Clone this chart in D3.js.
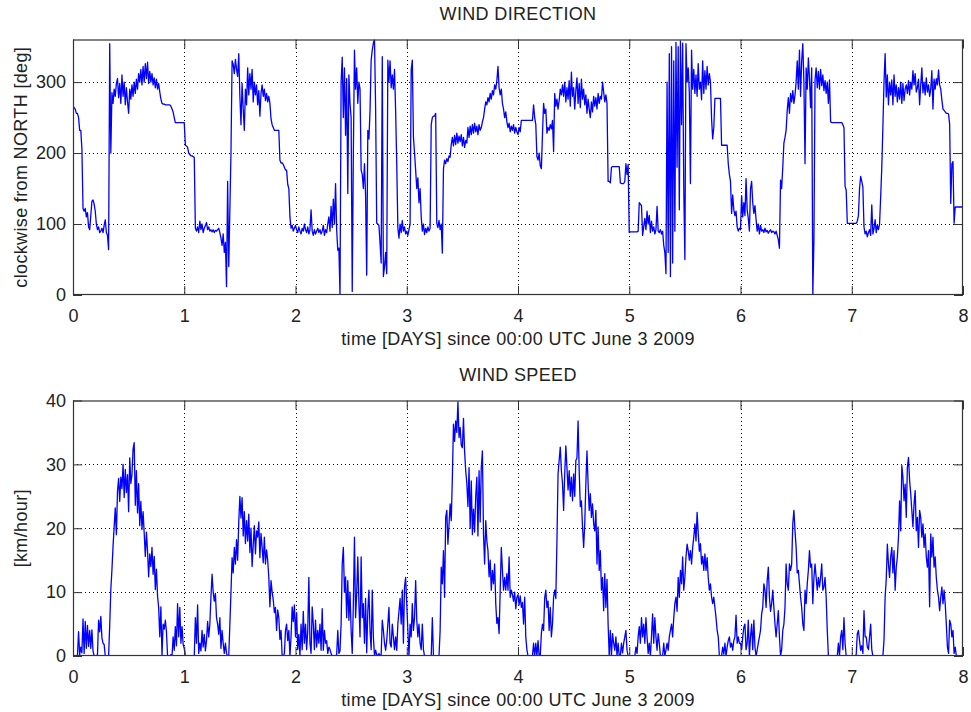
<!DOCTYPE html>
<html><head><meta charset="utf-8">
<script src="https://cdn.jsdelivr.net/npm/d3@7"></script>
<style>
body{margin:0;background:#fff;}
svg text{font-family:"Liberation Sans",Arial,sans-serif;fill:#222;}
</style></head><body><svg id="c" width="971" height="712"></svg>
<script>
// ---- data: wind direction (deg), 0.01-day samples, one array per day ----
const dirDay0=[266,264,262,256,256,250,232,232,206,122, 118,122,110,116,96,92,112,132,134,128, 118,100,92,96,88,90,94,88,98,106, 88,84,64,354,200,285,270,290,280,298, 305,278,298,270,310,280,300,268,292,272, 256,290,276,296,280,300,284,304,290,312, 300,318,296,322,300,326,305,328,298,315, 300,312,296,306,292,304,290,298,286,276, 270,269,269,268,268,268,268,268,266,262, 258,250,243,243,243,243,243,243,243,243];
const dirDay1=[243,211,210,208,200,198,196,196,195,194, 94,90,96,88,104,92,100,88,94,98, 102,92,96,90,92,89,92,88,91,90, 92,94,88,80,70,86,60,74,12,160, 40,120,200,330,325,312,332,318,308,340, 280,240,298,262,232,290,268,320,282,312, 290,318,272,300,282,296,268,288,252,284, 296,280,290,274,284,272,280,270,248,240, 236,232,232,232,232,232,190,186,186,184, 180,176,176,156,150,110,94,98,90,94];
const dirDay2=[98,92,88,96,90,86,94,90,100,92, 88,96,86,92,120,90,84,92,86,90, 94,88,92,86,90,98,84,92,88,100, 110,90,125,95,135,100,157,92,63,66, 0,300,335,250,320,225,305,143,310,270, 250,5,200,345,290,320,270,300,290,176, 170,150,185,140,28,232,220,260,331,345, 355,360,265,101,100,98,73,45,336,26, 40,60,30,331,300,330,292,310,290,318, 260,185,95,80,100,88,105,90,96,86];
const dirDay3=[90,84,92,100,317,331,223,200,176,150, 165,130,150,110,90,100,85,94,88,96, 90,94,240,250,252,252,256,101,95,105, 92,100,59,178,190,185,192,188,196,194, 212,222,210,225,212,228,214,224,216,226, 210,222,208,218,214,236,222,238,226,240, 228,242,230,238,226,240,232,236,244,250, 262,272,268,278,272,284,276,288,282,296, 290,302,322,292,282,290,270,262,250,258, 244,236,242,230,238,232,240,228,236,230];
const dirDay4=[226,236,230,246,246,246,246,246,246,246, 246,246,246,246,268,250,240,195,190,200, 182,178,226,270,256,262,228,236,232,240, 234,246,202,284,266,276,262,274,290,282, 296,280,300,272,292,276,302,266,314,280, 292,262,288,306,270,298,264,304,276,290, 268,282,256,276,262,250,272,258,280,266, 278,262,284,270,280,276,300,286,272,282, 270,160,160,158,180,181,181,181,181,181, 181,181,158,157,157,157,160,185,170,184];
const dirDay5=[88,89,89,89,89,89,89,89,90,130, 128,126,84,96,108,92,118,100,112,88, 104,90,96,86,92,125,90,88,92,86, 90,70,60,30,300,60,340,26,350,45, 330,90,356,180,350,120,358,240,355,150, 50,354,300,320,285,157,345,290,318,284, 310,280,326,290,300,275,330,284,316,290, 322,296,312,300,248,220,236,277,277,277, 277,277,277,211,211,211,211,211,211,185, 170,160,115,141,120,112,118,96,90,94];
const dirDay6=[92,140,110,130,112,164,120,108,90,150, 160,130,115,126,106,90,100,86,98,90, 92,88,94,89,91,87,90,92,88,90, 89,86,90,84,78,66,162,150,180,214, 222,232,260,278,256,284,272,288,270,282, 300,330,290,345,280,330,354,300,185,320, 290,334,305,264,320,0,77,303,320,292, 315,290,318,295,310,288,302,284,300,270, 303,244,243,243,243,243,243,243,243,243, 243,243,240,236,153,148,101,101,101,101];
const dirDay7=[101,101,101,101,101,104,112,150,167,160, 152,96,86,90,82,88,92,84,127,86, 94,106,88,98,92,100,138,180,237,300, 340,279,310,268,300,282,303,268,310,280, 296,272,292,276,300,270,298,274,290,296, 284,302,282,300,290,316,296,312,286,292, 304,268,296,320,285,300,282,306,286,296, 280,290,316,262,304,290,305,296,317,296, 290,275,262,260,258,256,256,255,240,129, 185,188,101,124,124,124,124,124,124,124,124];

// ---- data: wind speed (km/hour), 0.01-day samples, one array per day ----
const spdDay0=[0,0,0,0,0,3.8,0.2,1.4,0.5,5.8, 0.4,5.4,1.2,4.8,1.5,4.0,1.2,4.1,0.8,0, 0,0,0.2,5.6,3.8,6.2,2.8,2.0,1.8,0, 0,0,0,4.8,10.4,13.5,17.2,20.2,23.2,19.0, 25.8,27.8,24.2,28.0,26.2,30.0,24.8,29.2,25.6,28.4, 22.6,31.0,27.0,28.4,32.4,33.4,23.6,29.0,22.4,27.0, 20.4,24.2,19.8,22.6,19.2,15.6,19.4,16.4,12.4,16.0, 14.0,17.0,12.8,15.6,10.4,13.6,9.4,7.6,3.0,7.7, 0,5.0,4.2,5.6,3.8,0,0,0,0.2,0, 3.0,0.9,4.6,1.6,8.2,3.0,7.6,2.0,4.6,1.8];
const spdDay1=[1.2,0,0,0,0,0,0,0,0,0, 6.0,2.0,8.0,0.4,2.0,0.8,4.0,1.4,3.4,0.8, 2.4,5.4,3.0,5.0,9.2,12.8,10.0,8.6,9.8,6.0, 5.0,3.4,6.0,1.2,4.0,2.0,0.4,2.0,0.4,0, 0,5.0,10.0,15.4,13.0,17.0,14.4,18.2,15.0,21.0, 25.0,21.6,24.8,18.8,22.6,17.6,21.2,18.0,22.2,16.2, 20.0,14.0,17.4,20.4,16.0,19.6,18.6,21.0,15.4,19.2, 17.0,14.6,18.6,14.4,16.6,15.0,12.3,7.7,11.8,10.0, 8.8,6.8,7.6,4.0,7.2,6.0,2.6,4.0,0,0, 0.4,4.0,5.0,2.4,4.0,0,3.0,7.7,5.4,8.0];
const spdDay2=[3.0,6.8,1.0,3.4,0,5.0,1.0,7.0,2.0,5.0, 1.0,4.0,12.3,2.0,0.4,7.7,5.0,1.0,5.6,1.4, 4.0,2.0,5.0,0.9,7.4,0.9,4.0,2.0,2.4,0.4, 1.4,1.0,0.4,0,0,0,0,0.2,4.0,0.4, 0.8,5.0,14.4,17.0,10.0,12.4,6.0,11.8,5.6,10.0, 4.0,0.4,8.2,18.6,6.0,9.8,15.5,8.2,3.0,15.5, 6.0,8.2,2.0,9.0,0.5,7.0,10.3,4.0,1.0,10.3, 3.0,0,0.9,0.2,0,0.4,0,0.2,5.6,4.0, 2.0,0.9,2.4,5.0,7.6,2.0,1.4,5.0,3.0,1.0, 3.0,0.9,5.0,7.0,9.0,5.0,10.3,2.0,10.8,12.3];
const spdDay3=[8.2,4.0,0,5.0,3.0,8.2,4.0,6.0,11.8,5.6, 3.0,5.0,2.0,1.0,5.0,1.0,0,0,0,0, 0,0,0,6.0,0,0,0,0,0,0, 4.0,13.9,11.3,16.5,9.2,21.7,22.8,17.5,20.6,23.8, 21.2,28.0,36.3,33.6,36.8,35.0,39.8,34.2,35.8,33.0, 32.6,37.2,32.0,29.0,27.0,23.4,29.5,20.0,27.4,19.0, 23.0,19.4,25.0,28.0,18.8,29.0,21.0,29.5,32.1,19.0, 14.4,21.2,18.0,16.5,12.4,15.0,10.3,13.4,11.3,14.4, 8.2,5.1,6.0,3.5,10.3,17.0,13.4,10.3,12.3,10.3, 12.9,10.3,15.5,9.2,10.3,9.6,8.6,10.0,7.4,9.2];
const spdDay4=[9.6,8.0,9.4,7.6,8.4,5.0,9.2,3.0,1.0,0, 0,0,0,0,2.0,0,2.0,0,2.4,0, 0,3.5,5.0,4.0,9.1,10.3,7.6,8.6,4.0,7.6, 3.0,5.0,9.2,10.3,9.0,18.0,28.5,30.6,32.7,29.0, 27.0,22.8,28.5,32.9,29.5,26.0,29.0,25.0,28.0,24.3, 28.5,25.0,30.6,31.0,36.8,29.0,23.4,24.3,20.2,17.0, 20.7,27.0,32.1,27.0,22.8,25.4,21.7,23.8,20.7,19.6, 22.8,14.4,20.2,13.4,16.5,10.3,12.3,7.1,12.9,7.6, 12.0,5.0,0,4.0,0,3.5,2.0,0.9,3.0,0, 2.0,0,0,2.0,0.5,2.0,3.0,4.0,0.9,0];
const spdDay5=[0,0,0,0,0,0,1.4,0.4,3.0,4.6, 2.0,6.0,3.0,5.0,2.0,6.0,3.0,0.4,2.0,0, 3.0,6.6,2.0,6.0,3.0,0.9,3.5,2.0,0,0, 0,2.0,0,0.9,2.0,0.9,3.0,4.0,5.0,3.0, 6.0,8.2,9.2,7.0,12.3,9.2,13.4,11.3,15.5,10.3, 12.3,15.5,17.5,16.5,15.0,16.5,14.4,17.0,18.6,20.7, 18.0,22.5,19.2,16.4,17.6,14.4,15.6,13.4,16.0,13.4, 15.4,12.3,10.3,11.3,9.2,8.2,9.2,7.6,6.0,4.0, 3.0,0,0,0,1.4,0.3,2.0,0,1.4,2.4, 3.0,1.4,2.0,0.9,2.4,3.0,6.4,2.0,3.0,2.0];
const spdDay6=[2.0,1.0,3.0,4.5,5.0,1.0,2.0,5.6,0,3.0, 5.0,1.0,5.6,1.4,0,0.9,2.0,3.0,4.0,6.6, 7.6,11.3,10.3,7.6,11.8,13.9,9.2,7.0,8.2,10.3, 7.6,5.0,3.0,5.0,7.1,3.0,0,1.0,4.0,5.0, 7.6,14.4,11.3,10.3,14.4,13.4,14.4,20.7,22.8,19.6, 17.0,13.0,13.4,11.3,9.2,7.6,5.0,4.0,10.3,8.2, 11.3,13.4,16.5,13.9,14.4,8.2,12.3,14.4,12.3,10.3, 12.3,10.8,12.3,14.4,10.3,10.8,12.3,9.2,4.0,0, 0,0,0,0,0,0,0,0,2.0,0, 3.0,4.0,1.0,6.0,2.0,0,0,0,0,0];
const spdDay7=[0,0,0,0,0.2,3.5,4.0,2.4,0.9,1.6, 0.4,7.1,3.0,3.0,1.4,1.0,3.0,5.0,1.0,0, 0,0,0,0,0,0,0,0,0,2.5, 9.2,12.0,17.5,14.4,12.3,15.5,17.0,13.0,16.5,10.3, 13.9,15.5,18.6,24.3,19.6,29.8,28.0,24.3,26.9,21.7, 29.5,31.1,27.5,25.4,22.8,20.2,23.8,25.9,19.6,21.7, 17.0,22.8,21.7,18.6,20.7,17.0,19.1,15.5,13.9,16.5, 7.7,19.1,15.5,18.6,13.9,15.5,12.3,10.3,9.2,7.1, 9.2,10.8,8.2,10.3,8.2,5.0,1.4,0.4,5.6,5.0, 3.0,4.0,0.4,1.4,0,0,0,0,0,0,0];

// ---- ticks and labels ----
const dayTicks=[0,1,2,3,4,5,6,7,8];
const dirTicks=[0,100,200,300];
const spdTicks=[0,10,20,30,40];
const titles=["WIND DIRECTION","WIND SPEED"];
const xLabel="time [DAYS] since 00:00 UTC June 3 2009";
const yLabels=["clockwise from NORTH [deg]","[km/hour]"];
const sampleStep=0.01;

function series(days){
  const out=[];
  days.forEach((arr,d)=>arr.forEach((v,i)=>out.push([d+i*sampleStep,v])));
  return out;
}
const dirSeries=series([dirDay0,dirDay1,dirDay2,dirDay3,dirDay4,dirDay5,dirDay6,dirDay7]);
const spdSeries=series([spdDay0,spdDay1,spdDay2,spdDay3,spdDay4,spdDay5,spdDay6,spdDay7]);

const svg=d3.select("#c");
const FS=18;
const x=d3.scaleLinear().domain([0,8]).range([73,963]);

function panel(id,top,bottom,yMax,yTicks,data,title,yLabel){
  const y=d3.scaleLinear().domain([0,yMax]).range([bottom,top]);
  const g=svg.append("g");
  const L=x.range()[0], R=x.range()[1];
  g.append("clipPath").attr("id","clip"+id).append("rect")
    .attr("x",L).attr("y",top).attr("width",R-L).attr("height",bottom-top);
  // grid
  const gg=g.append("g").attr("stroke","#000").attr("stroke-width",1)
    .attr("stroke-dasharray","1,3").attr("shape-rendering","crispEdges");
  dayTicks.filter(d=>d>0&&d<8).forEach(d=>{
    const px=Math.round(x(d))+0.5;
    gg.append("line").attr("x1",px).attr("x2",px).attr("y1",top).attr("y2",bottom);
  });
  yTicks.filter(v=>v>0&&v<yMax).forEach(v=>{
    const py=Math.round(y(v))+0.5;
    gg.append("line").attr("x1",L).attr("x2",R).attr("y1",py).attr("y2",py);
  });
  // data line
  g.append("path").datum(data).attr("clip-path","url(#clip"+id+")")
    .attr("fill","none").attr("stroke","#0000ff").attr("stroke-width",1.3)
    .attr("stroke-linejoin","round")
    .attr("d",d3.line().x(d=>x(d[0])).y(d=>y(d[1])));
  // axes
  const style=a=>{a.select(".domain").remove();
    a.selectAll("line").attr("stroke","#333");
    a.attr("font-size",FS).attr("font-family",null);
    a.selectAll("text").attr("fill","#222");};
  g.append("g").attr("transform",`translate(0,${bottom})`)
    .call(d3.axisBottom(x).tickValues(dayTicks).tickFormat(d3.format("d")).tickSizeInner(-9).tickSizeOuter(0).tickPadding(14)).call(style);
  g.append("g").attr("transform",`translate(0,${top})`)
    .call(d3.axisTop(x).tickValues(dayTicks).tickFormat("").tickSizeInner(-9).tickSizeOuter(0)).call(style);
  g.append("g").attr("transform",`translate(${L},0)`)
    .call(d3.axisLeft(y).tickValues(yTicks).tickFormat(d3.format("d")).tickSizeInner(-9).tickSizeOuter(0).tickPadding(7)).call(style);
  g.append("g").attr("transform",`translate(${R},0)`)
    .call(d3.axisRight(y).tickValues(yTicks).tickFormat("").tickSizeInner(-9).tickSizeOuter(0)).call(style);
  g.append("rect").attr("x",L+0.5).attr("y",top+0.5).attr("width",R-L-1).attr("height",bottom-top-1)
    .attr("fill","none").attr("stroke","#333").attr("stroke-width",1.2);
  // texts
  const cx=(L+R)/2;
  g.append("text").attr("x",cx).attr("y",top-19.5).attr("text-anchor","middle")
    .attr("font-size",FS).attr("letter-spacing","0.35px").text(title);
  g.append("text").attr("x",cx).attr("y",bottom+50).attr("text-anchor","middle")
    .attr("font-size",FS).attr("letter-spacing","0.35px").text(xLabel);
  g.append("text").attr("transform",`translate(27,${(top+bottom)/2}) rotate(-90)`)
    .attr("text-anchor","middle").attr("font-size",FS).attr("letter-spacing","0.35px").text(yLabel);
}
panel(0,39.5,295,360,dirTicks,dirSeries,titles[0],yLabels[0]);
panel(1,400.5,656,40,spdTicks,spdSeries,titles[1],yLabels[1]);
</script></body></html>
